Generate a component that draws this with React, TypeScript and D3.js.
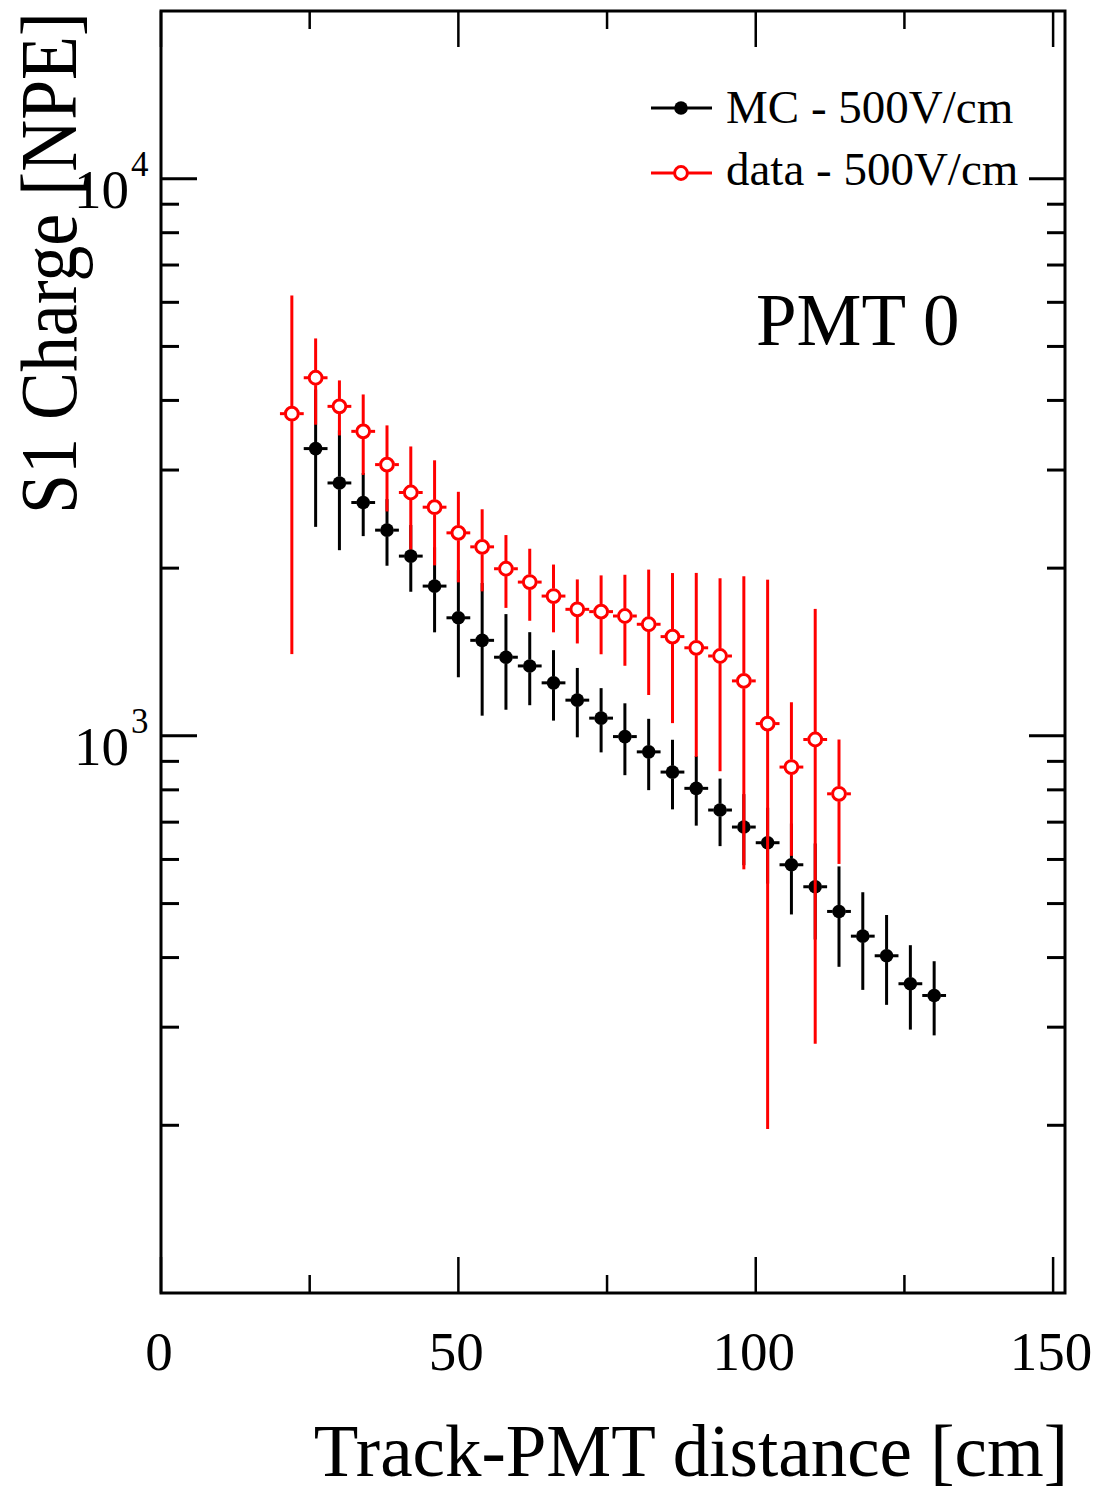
import React from "react";
import * as d3 from "d3";

const mcX = [26, 30, 34, 38, 42, 46, 50, 54, 58, 62, 66, 70, 74, 78, 82, 86, 90, 94, 98, 102, 106, 110, 114, 118, 122, 126, 130];
const mcY = [3278, 2844, 2623, 2340, 2102, 1857, 1629, 1484, 1384, 1335, 1245, 1159, 1076, 997, 936, 861, 805, 736, 686, 643, 587, 536, 484, 437, 403, 359, 342];
const mcErr = [906, 690, 340, 320, 288, 323, 355, 397, 270, 200, 180, 165, 142, 147, 137, 123, 115, 102, 100, 100, 109, 105, 99, 87, 74, 62, 52];

const dataX = [22, 26, 30, 34, 38, 42, 46, 50, 54, 58, 62, 66, 70, 74, 78, 82, 86, 90, 94, 98, 102, 106, 110, 114];
const dataY = [3787, 4393, 3903, 3520, 3068, 2734, 2573, 2314, 2184, 1995, 1888, 1782, 1687, 1671, 1641, 1586, 1507, 1439, 1391, 1255, 1052, 879, 985, 787];
const dataErr = [2385, 775, 442, 580, 540, 573, 550, 428, 367, 298, 279, 248, 222, 270, 305, 402, 453, 522, 527, 679, 855, 270, 705, 198];

const binHalfWidth = 2;
const xMajorTicks = [0, 50, 100, 150];
const xMinorTicks = [25, 75, 125];
const yMajorTicks = [1000, 10000];
const yMajorExp = ["3", "4"];

const seriesNames = ["MC - 500V/cm", "data - 500V/cm"];
const xTitle = "Track-PMT distance [cm]";
const yTitle = "S1 Charge [NPE]";
const annotation = "PMT 0";

const FONT = "'Liberation Serif', 'Times New Roman', serif";

export default function App() {
  const W = 1101, H = 1491;
  const L = 161, R = 1065, T = 11, B = 1293;
  const x = d3.scaleLinear().domain([0, 152]).range([L, R]);
  const y = d3.scaleLog().domain([100, 20000]).range([B, T]);
  const yMinor = y.ticks().filter((v) => !yMajorTicks.includes(v) && v > 100 && v < 20000);

  const majLen = 36, minLen = 18;
  const sw = 3;
  const rFull = 6.8, rOpen = 6.4;

  const errBar = (xv: number, yv: number, e: number, color: string, gap: number, key: string) => {
    const cx = x(xv), cy = y(yv);
    const yt = y(yv + e), yb = y(Math.max(yv - e, 1));
    const xl = x(xv - binHalfWidth), xr = x(xv + binHalfWidth);
    const segs: [number, number, number, number][] = [];
    if (cy - gap > yt) segs.push([cx, yt, cx, cy - gap]);
    if (yb > cy + gap) segs.push([cx, cy + gap, cx, Math.min(yb, B)]);
    segs.push([xl, cy, cx - gap, cy]);
    segs.push([cx + gap, cy, xr, cy]);
    return (
      <g key={key}>
        {segs.map((s, i) => (
          <line key={i} x1={s[0]} y1={s[1]} x2={s[2]} y2={s[3]} stroke={color} strokeWidth={sw} />
        ))}
      </g>
    );
  };

  return (
    <svg width={W} height={H} style={{ position: "absolute", left: 0, top: 0, background: "#fff" }} fontFamily={FONT}>
      <rect x={0} y={0} width={W} height={H} fill="#fff" />
      {/* MC series */}
      {mcX.map((xv, i) => errBar(xv, mcY[i], mcErr[i], "#000", rFull - 0.5, "mce" + i))}
      {mcX.map((xv, i) => (
        <circle key={"mcm" + i} cx={x(xv)} cy={y(mcY[i])} r={rFull} fill="#000" />
      ))}
      {/* data series */}
      {dataX.map((xv, i) => errBar(xv, dataY[i], dataErr[i], "#ff0000", rOpen + 1, "de" + i))}
      {dataX.map((xv, i) => (
        <circle key={"dm" + i} cx={x(xv)} cy={y(dataY[i])} r={rOpen} fill="none" stroke="#ff0000" strokeWidth={3} />
      ))}

      {/* frame */}
      <rect x={L} y={T} width={R - L} height={B - T} fill="none" stroke="#000" strokeWidth={3} />
      {/* x ticks */}
      {xMajorTicks.map((v) => (
        <g key={"xm" + v}>
          <line x1={x(v)} x2={x(v)} y1={B} y2={B - majLen} stroke="#000" strokeWidth={2.5} />
          <line x1={x(v)} x2={x(v)} y1={T} y2={T + majLen} stroke="#000" strokeWidth={2.5} />
          <text x={x(v) - 2} y={1370} fontSize={55} textAnchor="middle">{v}</text>
        </g>
      ))}
      {xMinorTicks.map((v) => (
        <g key={"xn" + v}>
          <line x1={x(v)} x2={x(v)} y1={B} y2={B - minLen} stroke="#000" strokeWidth={2.5} />
          <line x1={x(v)} x2={x(v)} y1={T} y2={T + minLen} stroke="#000" strokeWidth={2.5} />
        </g>
      ))}
      {/* y ticks */}
      {yMajorTicks.map((v, i) => (
        <g key={"ym" + v}>
          <line x1={L} x2={L + majLen} y1={y(v)} y2={y(v)} stroke="#000" strokeWidth={3} />
          <line x1={R} x2={R - majLen} y1={y(v)} y2={y(v)} stroke="#000" strokeWidth={3} />
          <text x={129} y={y(v) + 29} fontSize={55} textAnchor="end">10</text>
          <text x={131} y={y(v) - 3} fontSize={35} textAnchor="start">{yMajorExp[i]}</text>
        </g>
      ))}
      {yMinor.map((v) => (
        <g key={"yn" + v}>
          <line x1={L} x2={L + minLen} y1={y(v)} y2={y(v)} stroke="#000" strokeWidth={3} />
          <line x1={R} x2={R - minLen} y1={y(v)} y2={y(v)} stroke="#000" strokeWidth={3} />
        </g>
      ))}

      {/* axis titles */}
      <text x={1068} y={1476} fontSize={73} textAnchor="end">{xTitle}</text>
      <text
        transform={`translate(76, 12) rotate(-90)`}
        fontSize={80}
        textAnchor="end"
        textLength={502}
        lengthAdjust="spacingAndGlyphs"
      >
        {yTitle}
      </text>

      {/* annotation */}
      <text x={756} y={345} fontSize={73}>{annotation}</text>

      {/* legend */}
      <line x1={651} x2={712} y1={108} y2={108} stroke="#000" strokeWidth={3} />
      <circle cx={681} cy={108} r={rFull} fill="#000" />
      <text x={726} y={123} fontSize={47}>{seriesNames[0]}</text>
      <line x1={651} x2={674} y1={173} y2={173} stroke="#ff0000" strokeWidth={3} />
      <line x1={688} x2={712} y1={173} y2={173} stroke="#ff0000" strokeWidth={3} />
      <circle cx={681} cy={173} r={rOpen} fill="none" stroke="#ff0000" strokeWidth={3} />
      <text x={726} y={185} fontSize={47}>{seriesNames[1]}</text>
    </svg>
  );
}
